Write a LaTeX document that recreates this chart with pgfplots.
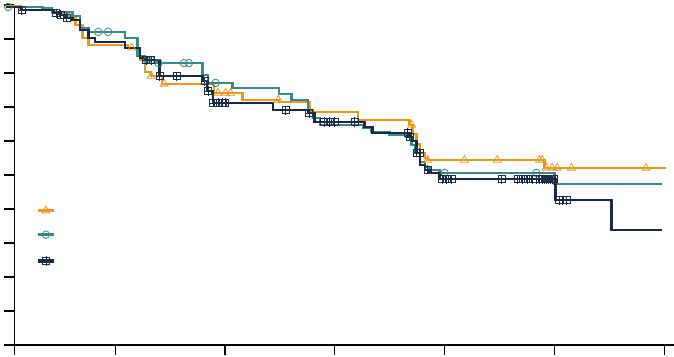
\documentclass[border=0pt]{standalone}
\usepackage{pgfplots}
\pgfplotsset{compat=1.18}
\definecolor{cOr}{RGB}{230,153,35}
\definecolor{cTe}{RGB}{58,138,138}
\definecolor{cNv}{RGB}{28,43,68}
\pgfdeclareplotmark{sqplus}{%
  \pgfpathrectangle{\pgfpoint{-\pgfplotmarksize}{-\pgfplotmarksize}}{\pgfpoint{2\pgfplotmarksize}{2\pgfplotmarksize}}%
  \pgfpathmoveto{\pgfpoint{0pt}{-1.3\pgfplotmarksize}}\pgfpathlineto{\pgfpoint{0pt}{1.3\pgfplotmarksize}}%
  \pgfpathmoveto{\pgfpoint{-\pgfplotmarksize}{0pt}}\pgfpathlineto{\pgfpoint{\pgfplotmarksize}{0pt}}%
  \pgfusepathqstroke}
\begin{document}
\begin{tikzpicture}
\begin{axis}[
  at={(0pt,0pt)}, anchor=south west,
  scale only axis, width=659.7pt, height=340pt,
  xmin=1.6, xmax=121.8, ymin=0, ymax=1,
  clip=false,
  axis x line=bottom, axis y line=left,
  axis line style={-, line width=1.2pt, black},
  tick style={line width=1.2pt, black},
  tick align=outside, major tick length=10pt,
  xtick={1.6,20,40,60,80,100,120},
  ytick={0,0.1,0.2,0.3,0.4,0.5,0.6,0.7,0.8,0.9,1.0},
  xticklabels={}, yticklabels={},
  legend image code/.code={\draw[#1, mark repeat=2, mark phase=2] plot coordinates {(0pt,0pt) (8pt,0pt) (16pt,0pt)};},
  legend style={draw=none, fill=none, inner sep=0pt, row sep=18pt, column sep=0pt,
    nodes={inner sep=0pt}, at={(0.0329,0.409)}, anchor=north west},
]
% orange
\addplot[const plot, cOr, line width=2.6pt, forget plot] coordinates {
(0,0.997)(2.7,0.985)(8.5,0.976)(11.5,0.962)(12.7,0.941)(14.0,0.903)(15.1,0.882)(22.3,0.874)(24.5,0.838)(25.4,0.803)(26.5,0.791)(28.5,0.768)(38.0,0.741)(43.2,0.721)(49.8,0.715)(55.4,0.685)(64.2,0.662)(73.6,0.647)(74.2,0.620)(74.9,0.590)(75.5,0.565)(76.4,0.550)(76.9,0.544)(98.2,0.521)(120.4,0.521)};
\addplot[only marks, cOr, mark=triangle, mark size=4.5pt, mark options={line width=0.8pt, fill=none}, forget plot] coordinates {
(23.0,0.874)(26.5,0.791)(28.9,0.768)(38.7,0.741)(40.1,0.741)(41.0,0.741)(49.7,0.721)(74.0,0.647)(76.9,0.544)(83.6,0.544)(89.6,0.544)(97.3,0.544)(97.8,0.544)(98.5,0.521)(99.6,0.521)(100.5,0.521)(103.1,0.521)(116.7,0.521)};
% teal
\addplot[const plot, cTe, line width=2.6pt, forget plot] coordinates {
(0,0.994)(6.7,0.991)(8.5,0.979)(12.2,0.968)(13.6,0.932)(15.1,0.921)(21.8,0.903)(24.1,0.850)(25.4,0.838)(27.5,0.829)(35.9,0.794)(36.9,0.771)(41.4,0.756)(49.8,0.738)(52.1,0.721)(55.1,0.691)(56.0,0.668)(57.3,0.647)(65.1,0.638)(66.7,0.626)(70.0,0.618)(73.1,0.612)(74.0,0.588)(74.6,0.565)(75.5,0.538)(76.4,0.524)(77.3,0.515)(79.1,0.506)(100.0,0.474)(119.6,0.474)};
\addplot[only marks, cTe, mark=o, mark size=3.8pt, mark options={line width=0.8pt}, forget plot] coordinates {
(0.5,0.994)(16.9,0.921)(18.7,0.921)(25.8,0.838)(26.5,0.838)(27.9,0.829)(32.5,0.829)(33.4,0.829)(38.3,0.771)(80.0,0.506)(96.7,0.506)};
% navy
\addplot[const plot, cNv, line width=2.6pt, forget plot] coordinates {
(0,0.994)(2.9,0.985)(8.7,0.976)(10.0,0.971)(11.1,0.962)(12.2,0.956)(13.6,0.926)(15.1,0.903)(16.3,0.891)(21.8,0.874)(24.5,0.844)(25.4,0.838)(28.1,0.791)(35.9,0.776)(36.7,0.747)(37.8,0.712)(48.7,0.691)(55.1,0.682)(56.3,0.656)(65.4,0.641)(66.9,0.624)(73.6,0.612)(74.2,0.600)(74.9,0.565)(75.5,0.529)(76.4,0.515)(77.3,0.506)(79.1,0.488)(100.2,0.426)(110.4,0.338)(119.6,0.338)};
\addplot[only marks, cNv, mark=sqplus, mark size=3.5pt, mark options={line width=0.8pt}, forget plot] coordinates {
(2.9,0.985)(9.2,0.976)(10.0,0.971)(11.1,0.962)(25.6,0.838)(26.5,0.838)(28.1,0.791)(31.2,0.791)(36.3,0.776)(36.9,0.747)(37.8,0.712)(38.7,0.712)(39.6,0.712)(40.0,0.712)(51.0,0.691)(55.3,0.682)(58.1,0.656)(59.1,0.656)(60.0,0.656)(63.6,0.656)(73.3,0.624)(73.6,0.612)(74.9,0.565)(75.5,0.565)(76.9,0.515)(79.6,0.488)(80.4,0.488)(81.3,0.488)(90.4,0.488)(93.3,0.488)(94.2,0.488)(95.1,0.488)(96.0,0.488)(96.7,0.488)(97.3,0.488)(97.8,0.488)(98.2,0.488)(98.5,0.488)(98.9,0.488)(99.3,0.488)(99.6,0.488)(100.0,0.488)(100.9,0.426)(101.5,0.426)(102.2,0.426)};
\addlegendimage{cOr, line width=3.5pt, mark=triangle, mark size=4.5pt, mark options={line width=0.8pt, solid}}
\addlegendimage{cTe, line width=3.5pt, mark=o, mark size=3.8pt, mark options={line width=0.8pt, solid}}
\addlegendimage{cNv, line width=3.5pt, mark=sqplus, mark size=3.5pt, mark options={line width=0.8pt, solid}}
\legend{\mbox{},\mbox{},\mbox{}}
\end{axis}
\pgfresetboundingbox
\useasboundingbox (-14.3pt,-11pt) rectangle (659.7pt,345pt);
\end{tikzpicture}
\end{document}
